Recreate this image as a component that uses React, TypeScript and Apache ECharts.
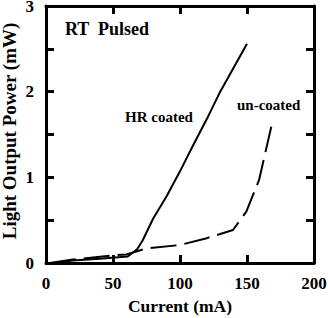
import React, { useEffect, useRef } from "react";
import * as echarts from "echarts";

const hrCurrent = [5, 20, 40, 61, 68, 72, 80, 90, 100, 110, 120, 130, 140, 150];
const hrPower = [0, 0.03, 0.05, 0.075, 0.16, 0.26, 0.52, 0.78, 1.07, 1.38, 1.68, 2.0, 2.28, 2.56];
const unCurrent = [3, 20, 50, 60, 75, 100, 120, 139.5, 149.5, 159, 169];
const unPower = [0, 0.04, 0.09, 0.1, 0.17, 0.21, 0.29, 0.385, 0.6, 0.97, 1.65];

const FONT = "Liberation Serif, Times New Roman, serif";

export default function App() {
  const ref = useRef<HTMLDivElement>(null);
  useEffect(() => {
    const chart = echarts.init(ref.current!, null, { renderer: "svg" });
    const axisLine = { show: true, onZero: false, lineStyle: { color: "#000", width: 3 } };
    const tick = { show: true, inside: true, length: 8, lineStyle: { color: "#000", width: 3 } };
    chart.setOption({
      animation: false,
      backgroundColor: "#fff",
      grid: { left: 46, right: 14, top: 6, bottom: 55, containLabel: false, outerBoundsMode: "none" },
      xAxis: [
        {
          type: "value", min: 0, max: 200, interval: 50, position: "bottom",
          axisLine, axisTick: tick, splitLine: { show: false },
          axisLabel: { color: "#000", fontFamily: FONT, fontWeight: "bold", fontSize: 17, margin: 12 },
          name: "Current (mA)", nameLocation: "middle", nameGap: 31,
          nameTextStyle: { color: "#000", fontFamily: FONT, fontWeight: "bold", fontSize: 17.5 },
        },
        {
          type: "value", min: 0, max: 200, interval: 50, position: "top",
          axisLine, axisTick: tick, splitLine: { show: false }, axisLabel: { show: false },
        },
      ],
      yAxis: [
        {
          type: "value", min: 0, max: 3, interval: 0.5, position: "left",
          axisLine, axisTick: tick, splitLine: { show: false },
          axisLabel: {
            color: "#000", fontFamily: FONT, fontWeight: "bold", fontSize: 17, margin: 12,
            formatter: (v: number) => (v % 1 === 0 ? String(v) : ""),
          },
        },
        {
          type: "value", min: 0, max: 3, interval: 0.5, position: "right",
          axisLine, axisTick: tick, splitLine: { show: false }, axisLabel: { show: false },
        },
      ],
      series: [
        {
          type: "line", name: "HR coated", xAxisIndex: 0, yAxisIndex: 0,
          data: hrCurrent.map((c, i) => [c, hrPower[i]]),
          showSymbol: false, lineStyle: { color: "#000", width: 2 },
        },
        {
          type: "line", name: "un-coated", xAxisIndex: 0, yAxisIndex: 0,
          data: unCurrent.map((c, i) => [c, unPower[i]]),
          showSymbol: false, lineStyle: { color: "#000", width: 2, type: [26, 8] },
        },
      ],
      graphic: [
        {
          type: "text", x: 9, y: 131, rotation: Math.PI / 2,
          style: {
            text: "Light Output Power (mW)", font: `bold 19px ${FONT}`, fill: "#000",
            align: "center", verticalAlign: "middle",
          },
        },
        { type: "text", x: 65, y: 28.5, style: { text: "RT  Pulsed", font: `bold 18px ${FONT}`, fill: "#000", verticalAlign: "middle" } },
        { type: "text", x: 125, y: 116.5, style: { text: "HR coated", font: `bold 15px ${FONT}`, fill: "#000", verticalAlign: "middle" } },
        { type: "text", x: 237, y: 105, style: { text: "un-coated", font: `bold 15px ${FONT}`, fill: "#000", verticalAlign: "middle" } },
      ],
    });
    return () => chart.dispose();
  }, []);
  return <div ref={ref} style={{ width: 328, height: 318, position: "absolute", left: 0, top: 0 }} />;
}
